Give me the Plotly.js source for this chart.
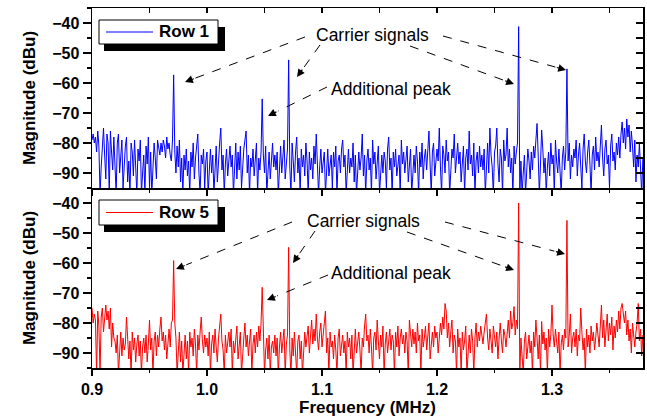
<!DOCTYPE html>
<html>
<head>
<meta charset="utf-8">
<script src="https://cdn.plot.ly/plotly-3.0.1.min.js"></script>
<style>html,body{margin:0;padding:0;background:#fff}#chart{width:647px;height:419px}</style>
</head>
<body>
<div id="chart"></div>
<script>
// Frequency grid (MHz): 0.900 to 1.379 in 0.001 steps
const freqStart = 0.9, freqStep = 0.001, nPoints = 480;
const freq = Array.from({length: nPoints}, (_, i) => +(freqStart + i * freqStep).toFixed(3));

// Row 1 magnitude (dBu) (values below -95 run off the frame)
const row1 = [
  -79,-77,-80,-78,-83,-76,-81,-97,-88,-79,-75,-84,-92,-77,-80,-97,-76,-83,-89,-78,
  -85,-97,-80,-77,-90,-84,-79,-95,-87,-81,-78,-93,-86,-97,-80,-83,-91,-79,-88,-97,
  -82,-86,-79,-97,-90,-84,-97,-81,-87,-78,-95,-83,-97,-88,-80,-85,-92,-79,-82,-84,
  -80,-83,-79,-81,-85,-78,-82,-80,-84,-86,-79,-57.3,-83,-90,-81,-88,-79,-93,-85,-97,
  -84,-89,-82,-91,-86,-97,-83,-88,-80,-92,-85,-81,-77,-90,-97,-84,-87,-82,-95,-86,
  -83,-97,-88,-82,-90,-84,-97,-86,-81,-93,-85,-80,-75,-89,-84,-97,-87,-82,-91,-85,
  -81,-88,-84,-97,-86,-80,-92,-83,-89,-81,-95,-86,-82,-79,-76,-90,-84,-97,-85,-88,
  -82,-91,-86,-80,-97,-85,-89,-83,-65.3,-84,-90,-81,-97,-87,-83,-92,-85,-80,-88,-84,
  -89,-83,-97,-86,-81,-90,-84,-79,-92,-85,-82,-52.3,-88,-97,-80,-86,-93,-83,-78,-90,
  -85,-97,-82,-88,-84,-91,-80,-86,-97,-83,-89,-85,-92,-81,-87,-77,-84,-97,-88,-82,
  -90,-85,-83,-97,-87,-82,-91,-86,-84,-95,-83,-88,-81,-97,-86,-84,-90,-82,-79,-88,
  -84,-97,-86,-82,-90,-85,-88,-80,-93,-84,-97,-87,-83,-89,-85,-77,-91,-84,-97,-86,
  -82,-89,-85,-97,-79,-87,-83,-92,-86,-81,-97,-88,-84,-90,-83,-86,-95,-82,-78,-89,
  -85,-97,-83,-88,-82,-91,-86,-84,-97,-79,-87,-83,-90,-85,-81,-93,-86,-82,-97,-88,
  -84,-90,-81,-86,-97,-83,-88,-80,-92,-85,-82,-89,-84,-76,-87,-97,-83,-80,-91,-85,
  -82,-86,-75,-88,-97,-81,-84,-90,-79,-86,-83,-97,-88,-82,-85,-77,-90,-84,-80,-87,
  -83,-93,-86,-81,-97,-85,-82,-89,-76,-87,-84,-91,-80,-97,-86,-83,-90,-81,-88,-84,
  -89,-82,-97,-86,-80,-90,-75,-84,-88,-97,-83,-81,-75,-87,-93,-82,-85,-97,-79,-86,
  -84,-75,-88,-82,-90,-85,-97,-81,-87,-83,-80,-41.2,-97,-86,-97,-90,-84,-97,-88,-82,
  -86,-92,-83,-89,-81,-85,-79,-73.5,-84,-97,-87,-75.7,-82,-90,-85,-97,-88,-83,-91,-80,
  -87,-84,-97,-79,-86,-90,-82,-88,-97,-85,-81,-89,-83,-55.3,-86,-80,-92,-84,-88,-82,
  -85,-79,-91,-84,-80,-88,-95,-82,-77,-86,-90,-83,-79,-87,-97,-84,-81,-89,-78,-86,
  -83,-88,-80,-74,-85,-91,-82,-79,-87,-84,-95,-81,-77,-86,-83,-89,-80,-84,-78,-85,
  -77,-73,-80,-75,-82,-72,-78,-74,-83,-76,-81,-88,-79,-93,-84,-88,-80,-91,-97,-85
];

// Row 5 magnitude (dBu)
const row5 = [
  -75,-80,-77,-79,-97,-76,-81,-97,-78,-75,-83,-77,-74,-79,-76,-82,-75,-88,-80,-85,
  -86,-90,-84,-97,-88,-83,-91,-85,-89,-87,-78,-84,-92,-86,-97,-83,-89,-85,-93,-87,
  -84,-91,-86,-97,-88,-85,-90,-84,-93,-87,-79,-89,-85,-97,-86,-83,-91,-84,-88,-82,
  -78,-86,-83,-89,-84,-92,-85,-82,-88,-80,-79,-59.2,-80,-85,-97,-88,-83,-93,-86,-97,
  -89,-84,-92,-86,-97,-83,-88,-85,-91,-82,-87,-97,-84,-89,-83,-78,-86,-90,-84,-88,
  -85,-91,-83,-97,-87,-84,-90,-82,-88,-93,-85,-81,-77,-86,-89,-97,-84,-90,-86,-83,
  -88,-82,-97,-86,-90,-84,-81,-92,-87,-83,-97,-89,-85,-80,-88,-84,-91,-86,-82,-97,
  -87,-84,-90,-83,-88,-81,-86,-80,-68.1,-82,-97,-89,-85,-92,-84,-97,-88,-86,-90,-84,
  -91,-85,-97,-88,-83,-90,-86,-82,-97,-87,-84,-54.8,-89,-97,-85,-91,-83,-88,-97,-86,
  -84,-92,-86,-97,-89,-83,-88,-85,-81,-90,-84,-79,-87,-82,-86,-77,-85,-89,-83,-80,
  -88,-84,-82,-76,-90,-85,-97,-83,-88,-86,-92,-84,-89,-97,-85,-82,-91,-87,-84,-90,
  -86,-97,-83,-88,-85,-92,-84,-97,-87,-82,-90,-86,-83,-89,-97,-85,-88,-81,-77,-86,
  -84,-90,-82,-88,-97,-85,-83,-89,-79,-86,-92,-84,-88,-81,-97,-87,-83,-90,-85,-82,
  -89,-84,-86,-97,-83,-88,-81,-91,-85,-82,-87,-84,-90,-83,-86,-97,-79,-85,-88,-82,
  -87,-83,-90,-80,-86,-84,-97,-82,-88,-85,-81,-89,-84,-80,-92,-86,-83,-88,-81,-85,
  -83,-90,-86,-80,-84,-78,-82,-73.5,-76,-85,-80,-88,-83,-79,-90,-84,-86,-97,-82,-88,
  -85,-97,-83,-89,-86,-81,-97,-88,-84,-90,-82,-86,-97,-85,-80,-88,-83,-86,-81,-84,
  -87,-83,-80,-77,-85,-89,-82,-86,-90,-81,-84,-88,-83,-92,-85,-80,-86,-90,-82,-84,
  -88,-83,-79,-85,-76,-82,-80,-74.5,-84,-79,-82,-40,-97,-85,-90,-97,-86,-83,-92,-88,
  -84,-90,-86,-97,-83,-88,-79,-85,-92,-84,-97,-79.5,-87,-83,-89,-85,-97,-82,-88,-84,
  -74,-84,-88,-82,-86,-90,-83,-97,-87,-84,-89,-82,-85,-45.8,-88,-84,-77,-90,-85,-83,
  -88,-82,-91,-84,-86,-75,-83,-89,-85,-97,-82,-88,-84,-90,-81,-86,-83,-89,-85,-80,
  -84,-88,-81,-74,-85,-79,-88,-82,-77,-86,-80,-84,-78,-89,-81,-85,-79,-83,-76,-82,
  -75,-73.5,-77,-80,-76,-84,-79,-86,-82,-90,-80,-85,-88,-83,-80,-73.5,-86,-82,-91,-84
];

const seriesNames = ['Row 1', 'Row 5'];
const seriesColors = ['#0000ff', '#ff0000'];
const xTickVals = [0.9, 1.0, 1.1, 1.2, 1.3];
const xTickText = ['0.9', '1.0', '1.1', '1.2', '1.3'];
const yTickVals = [-90, -80, -70, -60, -50, -40];
const yTickText = ['\u221290', '\u221280', '\u221270', '\u221260', '\u221250', '\u221240'];
const annoCarrier = 'Carrier signals';
const annoExtra = 'Additional peak';

// pixel -> paper helpers (plot area 92..643 x 8..368)
const PL = 92, PR = 643, PT = 8, PB = 368;
const px = x => (x - PL) / (PR - PL);
const py = y => (PB - y) / (PB - PT);

const FONT = 'Liberation Sans, Arial, sans-serif';
const xr = [0.9, 0.9 + (PR - PL) / 1150];
const yr = [-95, -35];

const traces = [
  {x: freq, y: row1, xaxis: 'x2', yaxis: 'y', type: 'scatter', mode: 'lines',
   name: seriesNames[0], line: {color: seriesColors[0], width: 1}, showlegend: false},
  {x: freq, y: row5, xaxis: 'x', yaxis: 'y2', type: 'scatter', mode: 'lines',
   name: seriesNames[1], line: {color: seriesColors[1], width: 1}, showlegend: false},
  {x: [], y: [], xaxis: 'x3', yaxis: 'y', showlegend: false, hoverinfo: 'skip'},
  {x: [], y: [], xaxis: 'x2', yaxis: 'y3', showlegend: false, hoverinfo: 'skip'},
  {x: [], y: [], xaxis: 'x', yaxis: 'y4', showlegend: false, hoverinfo: 'skip'}
];

const tickFont = {family: FONT, size: 16, weight: 'bold', color: '#000'};
const titleFont = {family: FONT, size: 17, weight: 'bold', color: '#000'};
const baseX = {range: xr, tickvals: xTickVals, ticktext: xTickText, showgrid: false, zeroline: false,
  showline: true, linecolor: '#000', linewidth: 1.5, tickcolor: '#000', tickwidth: 1.5};
const baseY = {range: yr, tickvals: yTickVals, ticktext: yTickText, showgrid: false, zeroline: false,
  showline: true, linecolor: '#000', linewidth: 1.5, tickcolor: '#000', tickwidth: 1.5};

const layout = {
  width: 647, height: 419,
  margin: {l: PL, r: 647 - PR, t: PT, b: 419 - PB},
  paper_bgcolor: '#fff', plot_bgcolor: '#fff',
  font: {family: FONT, color: '#000'},
  showlegend: false,
  xaxis: Object.assign({}, baseX, {domain: [0, 1], anchor: 'y2', ticks: 'outside', ticklen: 6,
    tickfont: tickFont, minor: {dtick: 0.05, tick0: 0.9, ticks: 'outside', ticklen: 3, tickcolor: '#000', tickwidth: 1.5},
    title: {text: 'Frequency (MHz)', font: titleFont, standoff: 4}}),
  xaxis2: Object.assign({}, baseX, {domain: [0, 1], anchor: 'y', ticks: 'outside', ticklen: 6, showticklabels: false,
    minor: {dtick: 0.05, tick0: 0.9, ticks: 'outside', ticklen: 3, tickcolor: '#000', tickwidth: 1.5}}),
  xaxis3: Object.assign({}, baseX, {overlaying: 'x2', side: 'top', anchor: 'y', ticks: 'inside', ticklen: 5,
    showticklabels: false, minor: {dtick: 0.05, tick0: 0.9, ticks: 'inside', ticklen: 5, tickcolor: '#000', tickwidth: 1.5}}),
  yaxis: Object.assign({}, baseY, {domain: [0.5, 1], anchor: 'x2', ticks: 'outside', ticklen: 8, tickfont: tickFont,
    minor: {dtick: 5, tick0: -95, ticks: 'outside', ticklen: 4, tickcolor: '#000', tickwidth: 1.5},
    title: {text: 'Magnitude (dBu)', font: titleFont, standoff: 12}}),
  yaxis3: Object.assign({}, baseY, {overlaying: 'y', side: 'right', anchor: 'x2', ticks: 'inside', ticklen: 7,
    showticklabels: false, minor: {dtick: 5, tick0: -95, ticks: 'inside', ticklen: 7, tickcolor: '#000', tickwidth: 1.5}}),
  yaxis2: Object.assign({}, baseY, {domain: [0, 0.5], anchor: 'x', ticks: 'outside', ticklen: 8, tickfont: tickFont,
    minor: {dtick: 5, tick0: -95, ticks: 'outside', ticklen: 4, tickcolor: '#000', tickwidth: 1.5},
    title: {text: 'Magnitude (dBu)', font: titleFont, standoff: 12}}),
  yaxis4: Object.assign({}, baseY, {overlaying: 'y2', side: 'right', anchor: 'x', ticks: 'inside', ticklen: 7,
    showticklabels: false, minor: {dtick: 5, tick0: -95, ticks: 'inside', ticklen: 7, tickcolor: '#000', tickwidth: 1.5}}),
  shapes: [],
  annotations: []
};

// legend boxes with drop shadow: [left, top, right, bottom] in pixels
const legendBoxes = [[99, 20, 218, 44], [99, 200, 218, 225]];
legendBoxes.forEach((b, i) => {
  const mid = (b[1] + b[3]) / 2;
  layout.shapes.push({type: 'rect', xref: 'paper', yref: 'paper', x0: px(b[0] + 5), x1: px(b[2] + 7),
    y0: py(b[1] + 7), y1: py(b[3] + 7), fillcolor: '#000', line: {width: 0}, layer: 'above'});
  layout.shapes.push({type: 'rect', xref: 'paper', yref: 'paper', x0: px(b[0]), x1: px(b[2]),
    y0: py(b[1]), y1: py(b[3]), fillcolor: '#fff', line: {color: '#000', width: 1}, layer: 'above'});
  layout.shapes.push({type: 'line', xref: 'paper', yref: 'paper', x0: px(b[0] + 7), x1: px(b[0] + 54),
    y0: py(mid), y1: py(mid), line: {color: seriesColors[i], width: 1}, layer: 'above'});
  layout.annotations.push({xref: 'paper', yref: 'paper', x: px(b[0] + 58), y: py(mid), xanchor: 'left', yanchor: 'middle',
    text: seriesNames[i], showarrow: false, font: {family: FONT, size: 17, weight: 'bold', color: '#000'}});
});

// dashed arrows [tailX, tailY, headX, headY] in pixels
const arrows = [
  [305, 37, 185, 82], [320, 45, 297, 77], [410, 46, 514, 84], [443, 36, 566, 70], [327, 87, 268, 116],
  [292, 222, 176, 269], [315, 231, 293, 263], [407, 232, 514, 270], [445, 222, 565, 254], [328, 275, 267, 300]
];
arrows.forEach(a => {
  const dx = a[0] - a[2], dy = a[1] - a[3], len = Math.hypot(dx, dy), s = 11 / len;
  layout.shapes.push({type: 'line', xref: 'paper', yref: 'paper', x0: px(a[0]), y0: py(a[1]),
    x1: px(a[2] + dx * s), y1: py(a[3] + dy * s), line: {color: '#000', width: 1, dash: 'dash'}, layer: 'above'});
  layout.annotations.push({xref: 'paper', yref: 'paper', x: px(a[2]), y: py(a[3]), text: '', showarrow: true,
    ax: dx * s, ay: dy * s, arrowhead: 2, arrowsize: 1.3, arrowwidth: 1.2, arrowcolor: '#000', standoff: 0});
});

const labelFont = {family: FONT, size: 17.5, color: '#000'};
[[annoCarrier, 372, 35], [annoExtra, 391, 89], [annoCarrier, 363, 221], [annoExtra, 391, 273]].forEach(t => {
  layout.annotations.push({xref: 'paper', yref: 'paper', x: px(t[1]), y: py(t[2]), xanchor: 'center', yanchor: 'middle',
    text: t[0], showarrow: false, font: labelFont});
});

Plotly.newPlot('chart', traces, layout, {displayModeBar: false, staticPlot: true});
</script>
</body>
</html>
